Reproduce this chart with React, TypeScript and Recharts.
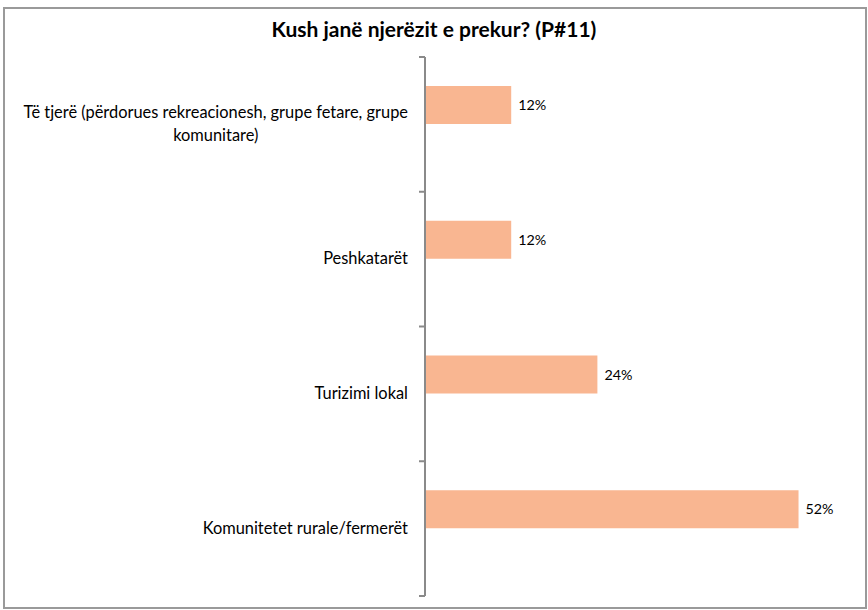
import React from 'react';
import { BarChart, Bar, XAxis, YAxis, LabelList } from 'recharts';

// categories, top to bottom (multi-line labels split on \n)
const categories = [
  'Të tjerë (përdorues rekreacionesh, grupe fetare, grupe\nkomunitare)',
  'Peshkatarët',
  'Turizimi lokal',
  'Komunitetet rurale/fermerët',
];
// share of respondents, %
const shares = [12, 12, 24, 52];
// second (empty) series from the original sheet, keeps bars offset in the band
const emptySeries = [null, null, null, null];
const xTicks = [0, 10, 20, 30, 40, 50, 60];

const W = 868;
const H = 610;
const FONT = 'Lato, "Open Sans", sans-serif';
const BAR_COLOR = '#F9B691';
const AXIS_COLOR = '#8A8A8A';

const data = categories.map((name, i) => ({
  name,
  share: shares[i],
  empty: emptySeries[i],
}));

let measureCtx: CanvasRenderingContext2D | null = null;
function textWidth(s: string, font: string) {
  if (!measureCtx) measureCtx = document.createElement('canvas').getContext('2d');
  if (!measureCtx) return s.length * 7;
  measureCtx.font = font;
  return measureCtx.measureText(s).width;
}

// category label + tick marks at band boundaries (Excel style)
function CategoryTick(props: any) {
  const { x, y, payload, index } = props;
  const half = payload?.offset ?? (H - 57 - 14) / categories.length / 2;
  const lines = String(payload.value).split('\n');
  const fontSize = 16.4;
  const widths = lines.map((l) => textWidth(l, `${fontSize}px Lato`));
  const maxW = Math.max(...widths);
  const right = x - 17;
  const cx = right - maxW / 2;
  const lineH = 23;
  const startY = y - 2 - ((lines.length - 1) * lineH) / 2;
  return (
    <g>
      <line x1={x - 6} x2={x} y1={y - half} y2={y - half} stroke={AXIS_COLOR} strokeWidth={2} />
      {index === categories.length - 1 && (
        <line x1={x - 6} x2={x} y1={y + half} y2={y + half} stroke={AXIS_COLOR} strokeWidth={2} />
      )}
      <text
        x={cx}
        y={startY}
        textAnchor="middle"
        dominantBaseline="central"
        fontFamily={FONT}
        fontSize={fontSize}
        fill="#000"
      >
        {lines.map((l, i) => (
          <tspan key={i} x={cx} y={startY + i * lineH}>
            {l}
          </tspan>
        ))}
      </text>
    </g>
  );
}

export default function App() {
  return (
    <div style={{ position: 'absolute', left: 0, top: 0, width: W, height: H, background: '#fff' }}>
      <div
        style={{
          position: 'absolute',
          left: 3,
          top: 7,
          width: 860,
          height: 598,
          border: '2px solid #9A9A9A',
        }}
      />
      <div
        style={{
          position: 'absolute',
          left: 0,
          top: 16,
          width: W,
          textAlign: 'center',
          fontFamily: FONT,
          fontWeight: 'bold',
          fontSize: 21,
          color: '#000',
        }}
      >
        Kush janë njerëzit e prekur? (P#11)
      </div>
      <div style={{ position: 'absolute', left: 0, top: 0 }}>
        <BarChart
          width={W}
          height={H}
          data={data}
          layout="vertical"
          margin={{ top: 57, right: 12, bottom: 14, left: 0 }}
          barGap={0}
        >
          <XAxis type="number" domain={[0, 60]} ticks={xTicks} hide />
          <YAxis
            type="category"
            dataKey="name"
            width={425}
            tickSize={0}
            tickMargin={0}
            tickLine={false}
            axisLine={{ stroke: AXIS_COLOR, strokeWidth: 2 }}
            tick={<CategoryTick />}
            interval={0}
          />
          <Bar dataKey="share" fill={BAR_COLOR} barSize={38} isAnimationActive={false}>
            <LabelList
              dataKey="share"
              position="right"
              offset={7}
              formatter={(v: any) => `${v}%`}
              style={{ fontFamily: FONT, fontSize: 14.3, fill: '#000' }}
            />
          </Bar>
          <Bar dataKey="empty" fill={BAR_COLOR} barSize={38} isAnimationActive={false} />
        </BarChart>
      </div>
    </div>
  );
}
